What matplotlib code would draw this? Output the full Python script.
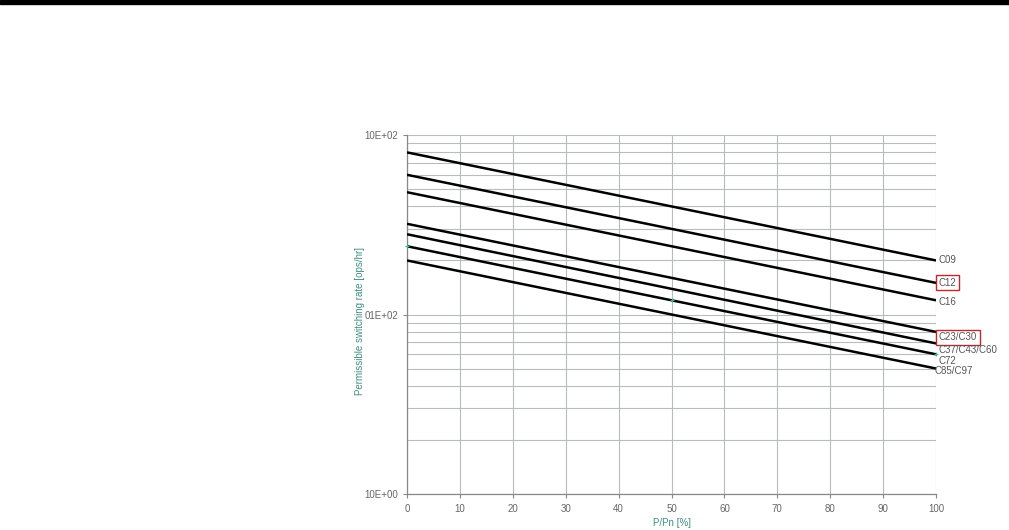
import matplotlib
matplotlib.use('Agg')
import matplotlib.pyplot as plt
from matplotlib.ticker import FixedLocator, LogLocator, NullFormatter
from matplotlib.patches import Rectangle

# load range P/Pn [%]
load = [0, 100]

# permissible switching rate [ops/hr] at 0 % and 100 % load
series_names = ['C09', 'C12', 'C16', 'C23/C30', 'C37/C43/C60', 'C72', 'C85/C97']
rate_start = [800, 600, 480, 320, 280, 240, 200]
rate_end = [200, 150, 120, 80, 69, 60, 50]
boxed = ['C12', 'C23/C30']

y_ticks = [10, 100, 1000]
y_tick_labels = ['10E+00', '01E+02', '10E+02']
x_ticks = list(range(0, 101, 10))

# small green marks seen on the C72 curve
mark_x = [0, 50, 100]

grey = '#666666'
teal = '#3f8f80'

fig = plt.figure(figsize=(10.09, 5.30), dpi=100)
fig.patches.append(Rectangle((0, 0.992), 1, 0.008, transform=fig.transFigure,
                             color='black', zorder=0))
ax = fig.add_axes([0.4034, 0.0679, 0.5243, 0.6774])

ax.set_yscale('log')
ax.set_xlim(0, 100)
ax.set_ylim(10, 1000)

for name, a, b in zip(series_names, rate_start, rate_end):
    ax.plot(load, [a, b], color='black', linewidth=1.8, solid_capstyle='butt', zorder=3)

# green marks on C72
i72 = series_names.index('C72')
a, b = rate_start[i72], rate_end[i72]
mark_y = [a * (b / a) ** (x / 100) for x in mark_x]
ax.plot(mark_x, mark_y, linestyle='none', marker='+', color='#2fbf8f',
        markersize=3, markeredgewidth=0.8, zorder=4, clip_on=False)

# labels at the right end of each line
offsets = [0, 0, -1, -4, -5, -5, -2]
for name, b, dy in zip(series_names, rate_end, offsets):
    dx = 2 if name != 'C85/C97' else -1
    bbox = None
    if name in boxed:
        bbox = dict(boxstyle='square,pad=0.25', facecolor='none',
                    edgecolor='#c0282d', linewidth=1.0)
    ax.annotate(name, xy=(100, b), xytext=(dx, dy), textcoords='offset points',
                ha='left', va='center', fontsize=7, color='#555555',
                family='Liberation Sans', bbox=bbox, annotation_clip=False)

ax.yaxis.set_major_locator(FixedLocator(y_ticks))
ax.set_yticklabels(y_tick_labels)
ax.yaxis.set_minor_locator(LogLocator(base=10, subs=range(2, 10)))
ax.yaxis.set_minor_formatter(NullFormatter())
ax.set_xticks(x_ticks)

ax.grid(True, which='both', color='#b8bcbc', linewidth=0.8)
ax.set_axisbelow(True)

for side in ['left', 'bottom']:
    ax.spines[side].set_color('#888888')
    ax.spines[side].set_linewidth(0.9)
for side in ['top', 'right']:
    ax.spines[side].set_visible(False)

ax.tick_params(axis='both', which='major', labelsize=7, colors='#888888',
               labelcolor=grey, length=3, width=0.8)
ax.tick_params(axis='y', which='minor', length=0)
ax.tick_params(axis='x', pad=4)
for lbl in ax.get_xticklabels() + ax.get_yticklabels():
    lbl.set_family('Liberation Sans')

ax.set_xlabel('P/Pn [%]', fontsize=7, color=teal, family='Liberation Sans', labelpad=3)
ax.set_ylabel('Permissible switching rate [ops/hr]', fontsize=7, color=teal,
              family='Liberation Sans')
ax.yaxis.set_label_coords(-0.08, 0.482)

fig.savefig('out.png', dpi=100)
